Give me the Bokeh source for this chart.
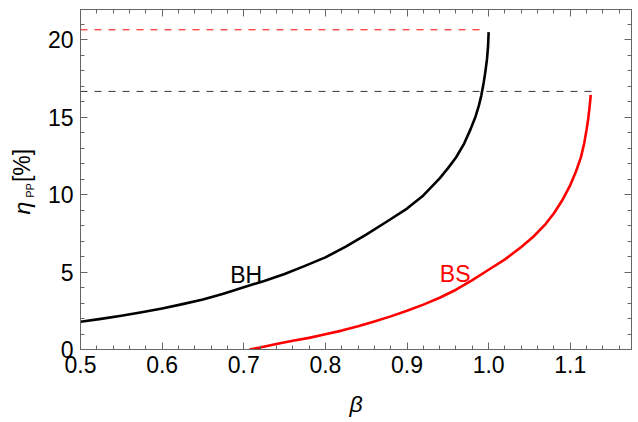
import numpy as np
from math import pi
from bokeh.plotting import figure
from bokeh.layouts import row
from bokeh.core.properties import value
from bokeh.models import Range1d, FixedTicker, LinearAxis, Label, PrintfTickFormatter
from bokeh.embed import file_html
from bokeh.resources import INLINE

# ---- data ----
bh_beta = [0.50, 0.525, 0.55, 0.575, 0.60, 0.625, 0.65, 0.675, 0.70, 0.725, 0.75,
           0.775, 0.80, 0.825, 0.85, 0.875, 0.90, 0.92, 0.94, 0.95, 0.96, 0.97,
           0.978, 0.984, 0.988, 0.991, 0.994, 0.996, 0.998, 0.9993, 1.000]
bh_eta = [1.79, 1.98, 2.18, 2.40, 2.65, 2.93, 3.23, 3.60, 4.02, 4.43, 4.88,
          5.40, 5.95, 6.64, 7.42, 8.25, 9.10, 9.95, 11.05, 11.70, 12.40, 13.30,
          14.25, 15.05, 15.75, 16.40, 17.26, 17.95, 18.77, 19.60, 20.50]

bs_beta = [0.707, 0.72, 0.74, 0.76, 0.78, 0.80, 0.82, 0.84, 0.86, 0.88, 0.90,
           0.92, 0.94, 0.96, 0.98, 1.00, 1.02, 1.04, 1.055, 1.07, 1.08, 1.09,
           1.10, 1.107, 1.113, 1.117, 1.120, 1.122, 1.1235, 1.1245, 1.125]
bs_eta = [0.00, 0.13, 0.36, 0.56, 0.75, 0.98, 1.22, 1.50, 1.81, 2.14, 2.50,
          2.90, 3.34, 3.86, 4.48, 5.15, 5.82, 6.62, 7.30, 8.12, 8.80, 9.62,
          10.62, 11.50, 12.41, 13.30, 14.20, 14.90, 15.60, 16.10, 16.45]

bh_limit_beta = [0.5, 0.995]
bh_limit_eta = [20.65, 20.65]
bs_limit_beta = [0.5, 1.126]
bs_limit_eta = [16.67, 16.67]

x_ticks = [0.5, 0.6, 0.7, 0.8, 0.9, 1.0, 1.1]
y_ticks = [0, 5, 10, 15, 20]
x_range = (0.5, 1.175)
y_range = (0.0, 21.96)

label_bh = ("BH", 0.703, 4.83)
label_bs = ("BS", 0.959, 4.87)

# y-axis title pieces: text, font size, style
ylabel_parts = [("η", "23px", "italic"), ("PP", "11px", "normal"), ("[%]", "23px", "normal")]

FONT = "Liberation Sans"
FS = "23px"
FRAME = "#666666"
LEFT_W = 40
H = 422
B_TOP, B_BOTTOM = 9, 73

# ---------------- main plot ----------------
p = figure(width=638 - LEFT_W, height=H, output_backend="svg", toolbar_location=None,
           x_range=Range1d(*x_range), y_range=Range1d(*y_range),
           min_border_left=80 - LEFT_W, min_border_right=7, min_border_top=B_TOP,
           min_border_bottom=B_BOTTOM, background_fill_color="white", border_fill_color="white")
p.grid.visible = False
p.outline_line_color = FRAME
p.outline_line_width = 1

x_minor = [round(v, 2) for v in np.arange(0.5, 1.1751, 0.02)]
y_minor = list(range(0, 22))

def style_axis(ax, ticks, minor, show_labels):
    ax.ticker = FixedTicker(ticks=ticks, minor_ticks=minor)
    ax.axis_line_color = FRAME
    ax.major_tick_line_color = FRAME
    ax.minor_tick_line_color = FRAME
    ax.major_tick_in = 7
    ax.major_tick_out = 0
    ax.minor_tick_in = 4
    ax.minor_tick_out = 0
    if show_labels:
        ax.major_label_text_font = FONT
        ax.major_label_text_font_size = FS
        ax.major_label_text_color = "black"
    else:
        ax.major_label_text_font_size = "0px"
        ax.major_label_text_color = None
        ax.major_label_text_alpha = 0
        ax.major_label_standoff = 0

style_axis(p.xaxis[0], x_ticks, x_minor, True)
p.xaxis[0].formatter = PrintfTickFormatter(format="%.1f")
p.xaxis[0].major_label_standoff = 6
p.xaxis[0].axis_label = "β"
p.xaxis[0].axis_label_text_font = FONT
p.xaxis[0].axis_label_text_font_size = FS
p.xaxis[0].axis_label_text_font_style = "italic"
p.xaxis[0].axis_label_text_color = "black"
p.xaxis[0].axis_label_standoff = 15

style_axis(p.yaxis[0], y_ticks, y_minor, True)
p.yaxis[0].major_label_standoff = 7

top = LinearAxis()
style_axis(top, x_ticks, x_minor, False)
p.add_layout(top, "above")
right = LinearAxis()
style_axis(right, y_ticks, y_minor, False)
p.add_layout(right, "right")

# reference lines
p.line(bh_limit_beta, bh_limit_eta, line_color="#ff0000", line_width=1, line_dash="7 7")
p.line(bs_limit_beta, bs_limit_eta, line_color="#333333", line_width=1, line_dash="7 7")

# curves
p.line(bh_beta, bh_eta, line_color="black", line_width=2.6, line_join="round")
p.line(bs_beta, bs_eta, line_color="#ff0000", line_width=2.6, line_join="round")

# curve labels
for (txt, bx, by), col in [(label_bh, "black"), (label_bs, "#ff0000")]:
    p.add_layout(Label(x=bx, y=by, text=txt, text_color=col, text_font=FONT,
                       text_font_size=FS, text_align="center", text_baseline="alphabetic"))

# ---------------- y-axis title strip ----------------
# In a row, Bokeh aligns this strip's frame with the main frame (top 9 px, bottom 73 px),
# so the y range is chosen to make one unit equal one canvas pixel measured from the bottom.
lf = figure(width=LEFT_W, height=H, output_backend="svg", toolbar_location=None,
            x_axis_type=None, y_axis_type=None,
            x_range=Range1d(0, LEFT_W), y_range=Range1d(B_BOTTOM, H - B_TOP),
            min_border_left=0, min_border_right=0, min_border_top=B_TOP,
            min_border_bottom=B_BOTTOM, background_fill_color="white",
            border_fill_color="white")
lf.grid.visible = False
lf.outline_line_color = None

# vertical text, reading bottom to top; centre of each piece (pixels, y from bottom)
part_x = [21, 29, 21]
part_y = [H - 207.5, H - 190.0, H - 165.0]
for (txt, fs, style), xx, yy in zip(ylabel_parts, part_x, part_y):
    lf.text(x=[xx], y=[yy], text=[txt], angle=pi / 2, text_font=value(FONT),
            text_font_size=fs, text_font_style=style, text_color="black",
            text_align="center", text_baseline="middle")

layout = row(lf, p)
open("out.html", "w").write(file_html(layout, INLINE))
